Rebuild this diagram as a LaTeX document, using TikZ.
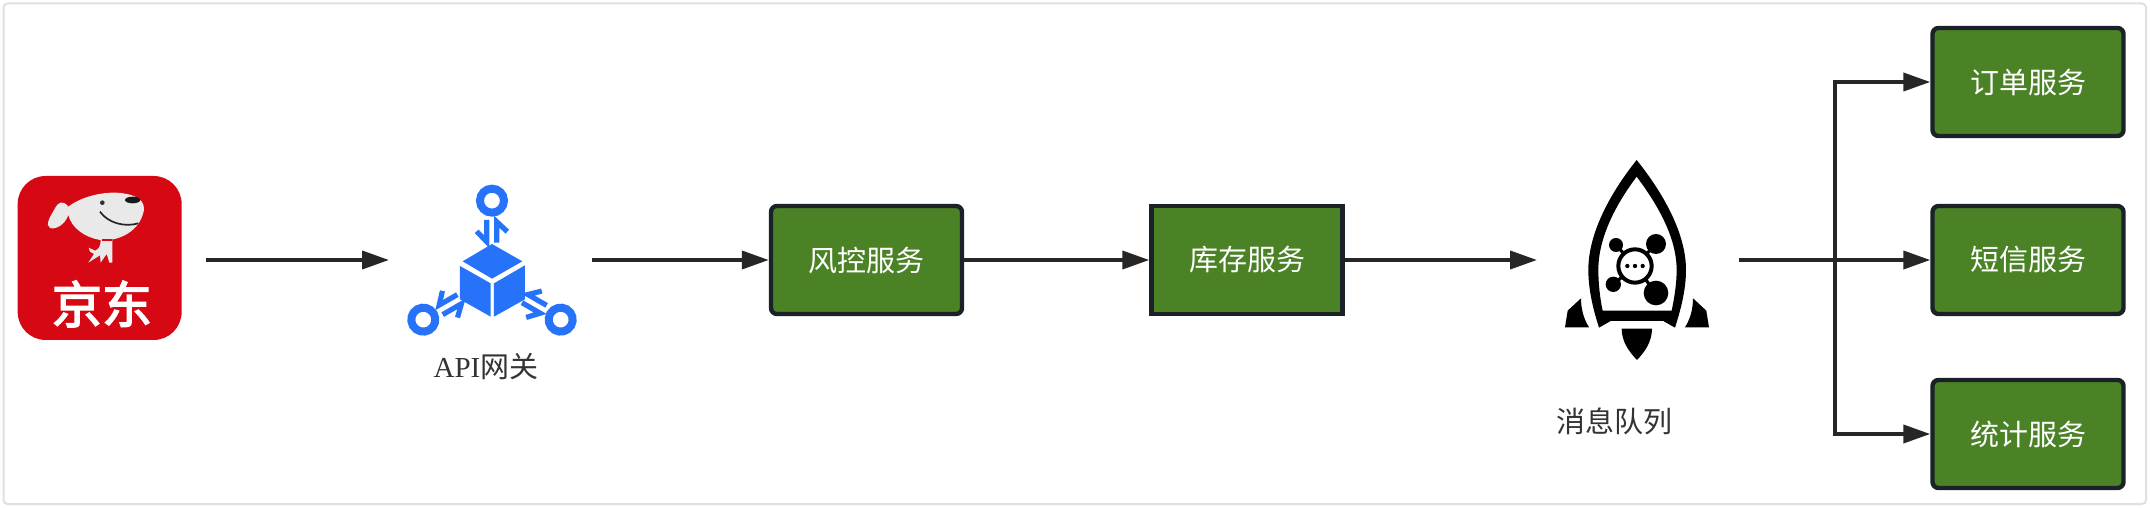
\documentclass[tikz,border=0pt]{standalone}
\usepackage{fontspec}
\setmainfont{Liberation Serif}
\newfontfamily\cjk{Noto Sans CJK SC}
\newfontfamily\cjklogo[FakeBold=3]{Noto Sans CJK SC}
\usetikzlibrary{arrows.meta}
\definecolor{svcgreen}{HTML}{4A8225}
\definecolor{svcedge}{HTML}{1A2227}
\definecolor{flowgray}{HTML}{262626}
\definecolor{jdred}{HTML}{D60814}
\definecolor{gwblue}{HTML}{2673F9}
\definecolor{dogwhite}{HTML}{E9E9E9}
\tikzset{
  svcbox/.style={draw=svcedge,fill=svcgreen,line width=4.4pt,text=white,rounded corners=6pt,
    minimum width=191pt,minimum height=108pt,inner sep=0pt,font=\fontsize{29}{29}\selectfont\cjk},
  iconslot/.style={inner sep=0pt,outer sep=0pt,minimum height=40pt},
  flow/.style={draw=flowgray,line width=3.8pt,-{Triangle[length=27pt,width=18pt]}},
  caption/.style={text=black!80,inner sep=0pt,font=\fontsize{29}{29}\selectfont},
}
\begin{document}
\begin{tikzpicture}[x=1pt,y=-1pt]
\useasboundingbox (0,0) rectangle (2150,508);
\draw[draw=black!12,fill=white,line width=2pt,rounded corners=4pt] (3.5,3.5) rectangle (2146,504);

% icons, the scopes use zoomed pixels
\begin{scope}[shift={(0,150)},x=0.3333pt,y=-0.3333pt]
\fill[jdred,rounded corners=28pt] (53,78) rectangle (545,570);
\fill[dogwhite] (205,170) .. controls (250,135) and (330,120) .. (380,132) .. controls (425,140) and (440,165) .. (428,195)
  .. controls (410,250) and (350,275) .. (300,270) .. controls (255,262) and (215,235) .. (205,195)
  .. controls (195,225) and (165,240) .. (150,234) .. controls (135,225) and (150,200) .. (165,175) .. controls (175,155) and (190,150) .. (205,170) -- cycle;
\fill[dogwhite] (302,270) -- (337,270) -- (337,338) -- (328,338) -- (320,312) -- (302,338) -- (300,316) -- (265,338) -- (282,312) -- (270,305) -- (266,293) -- (285,302) .. controls (298,298) and (302,285) .. (302,270) -- cycle;
\fill[jdred] (305,268) rectangle (335,272);
\fill[black!90] (398,150) ellipse [x radius=23,y radius=10];
\fill[black!80] (307,158) circle [radius=7];
\draw[black!85,line width=1.7pt] (300,185) .. controls (325,220) and (375,232) .. (415,220);
\end{scope}
\node[text=white,inner sep=0pt,font=\fontsize{50}{50}\selectfont\cjklogo] (jdname) at (102,304) {京东};

\begin{scope}[shift={(380,170)},x=0.3333pt,y=-0.3333pt]
\fill[gwblue] (336,222) -- (427,274) -- (336,326) -- (248,274) -- cycle;
\fill[gwblue] (240,288) -- (332,340) -- (332,440) -- (240,388) -- cycle;
\fill[gwblue] (342,340) -- (435,286) -- (435,388) -- (342,440) -- cycle;
\foreach \turn in {0,120,240} {
  \begin{scope}[rotate around={\turn:(336,330)}]
  \draw[gwblue,line width=8pt] (336,92) circle [radius=36];
  \draw[gwblue,line width=5.2pt] (290,184) -- (320,215) -- (320,150);
  \draw[gwblue,line width=5.2pt] (350,218) -- (350,155) -- (382,185);
  \end{scope}
}
\end{scope}

\begin{scope}[shift={(1520,140)},x=0.3333pt,y=-0.3333pt]
\fill[black,even odd rule] (350,60) .. controls (270,160) and (205,280) .. (205,390) .. controls (205,450) and (220,510) .. (237,563)
  -- (272,543) -- (430,543) -- (465,563) .. controls (482,510) and (498,450) .. (498,390) .. controls (498,280) and (430,160) .. (350,60) -- cycle
  (350,110) .. controls (290,190) and (235,290) .. (235,390) .. controls (235,430) and (240,475) .. (248,512)
  -- (455,512) .. controls (463,475) and (470,430) .. (470,390) .. controls (470,290) and (410,190) .. (350,110) -- cycle;
\fill[black] (183,475) -- (143,512) -- (135,562) -- (207,562) .. controls (190,535) and (183,505) .. (183,475) -- cycle;
\fill[black] (519,475) -- (559,512) -- (567,562) -- (495,562) .. controls (512,535) and (519,505) .. (519,475) -- cycle;
\fill[black] (305,566) -- (396,566) .. controls (396,605) and (375,635) .. (351,660) .. controls (327,635) and (305,605) .. (305,566) -- cycle;
\foreach \bx/\by/\br in {288/315/21,408/312/30,280/433/23,408/459/37} {
  \draw[black,line width=3.2pt] (345,378) -- (\bx,\by);
  \fill[black] (\bx,\by) circle [radius=\br];
}
\draw[black,fill=white,line width=4pt] (345,378) circle [radius=50];
\foreach \dx in {322,345,368} {
  \fill[black] (\dx,378) circle [radius=6.5];
}
\end{scope}

% slots for the arrows to start and end on
\node[iconslot,minimum width=212pt] (jd) at (100,260) {};
\node[iconslot,minimum width=203pt] (gateway) at (490.5,260) {};
\node[iconslot,minimum width=202pt] (mq) at (1638,260) {};
\coordinate (fork) at (1835,260);

\node[caption] (gwlabel) at (486,367) {API{\cjk 网关}};
\node[caption] (mqlabel) at (1614.5,421) {\cjk 消息队列};

\node[svcbox] (risk) at (866.5,260) {风控服务};
\node[svcbox,rounded corners=0pt] (stock) at (1247,260) {库存服务};
\node[svcbox] (order) at (2028,82) {订单服务};
\node[svcbox] (sms) at (2028,260) {短信服务};
\node[svcbox] (stats) at (2028,434) {统计服务};

\draw[flow] (jd) -- (gateway);
\draw[flow] (gateway) -- (risk);
\draw[flow] (risk) -- (stock);
\draw[flow] (stock) -- (mq);
\draw[flow] (mq) -- (sms);
\draw[flow] (fork) |- (order);
\draw[flow] (fork) |- (stats);
\end{tikzpicture}
\end{document}
